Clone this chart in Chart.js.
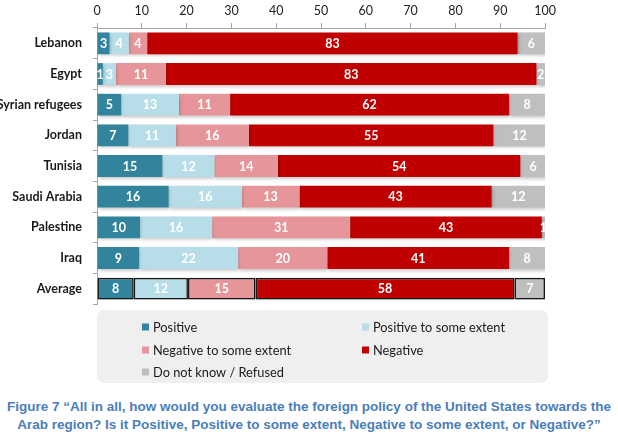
<!DOCTYPE html>
<html><head><meta charset="utf-8">
<script src="https://cdn.jsdelivr.net/npm/chart.js@4/dist/chart.umd.min.js"></script>
<style>
html,body{margin:0;padding:0;background:#fff;width:618px;height:435px;overflow:hidden}
#wrap{position:absolute;left:0;top:0;width:618px;height:390px}
#title{position:absolute;left:0;top:398px;width:618px;text-align:center;font:bold 13.5px "Liberation Sans",Arial,sans-serif;color:#4a7ebb;line-height:18px;white-space:nowrap}
</style></head><body>
<div id="wrap"><canvas id="c" width="618" height="390"></canvas></div>
<div id="title">Figure 7 “All in all, how would you evaluate the foreign policy of the United States towards the<br>Arab region? Is it Positive, Positive to some extent, Negative to some extent, or Negative?”</div>
<script>
const categories = ['Lebanon','Egypt','Syrian refugees','Jordan','Tunisia','Saudi Arabia','Palestine','Iraq','Average'];
const seriesNames = ['Positive','Positive to some extent','Negative to some extent','Negative','Do not know / Refused'];
const positive        = [2.8, 1.3, 5.4, 7.0, 14.6, 16.0, 9.6, 9.4, 8.2];
const positiveSome    = [4.3, 2.9, 12.9, 10.6, 11.6, 16.3, 16.1, 22.1, 12.1];
const negativeSome    = [4.1, 11.2, 11.4, 16.3, 14.2, 12.9, 30.8, 19.9, 15.1];
const negative        = [82.7, 82.7, 62.3, 54.6, 54.1, 42.9, 42.8, 40.6, 57.8];
const dontKnow        = [6.1, 1.9, 8.0, 11.6, 5.7, 11.9, 0.7, 8.0, 6.8];
const xTicks = [0,10,20,30,40,50,60,70,80,90,100];
const colors = ['#31849b','#b7dee8','#e6969a','#c00000','#bfbfbf'];

const allSeries = [positive, positiveSome, negativeSome, negative, dontKnow];
const datasets = allSeries.map((d,i)=>({
  label: seriesNames[i],
  data: d,
  backgroundColor: colors[i],
  borderColor: '#1a1a1a',
  borderWidth: ctx => (ctx.dataIndex === categories.length-1 ? 1.6 : 0),
  borderSkipped: false,
  barPercentage: 0.71,
  categoryPercentage: 1.0
}));

const plugin = {
  id:'custom',
  beforeDatasetsDraw(chart){
    const ctx=chart.ctx;
    ctx.save();
    ctx.shadowColor='rgba(0,0,0,0.22)';
    ctx.shadowBlur=3;
    ctx.shadowOffsetX=1;
    ctx.shadowOffsetY=2;
  },
  afterDatasetsDraw(chart){
    const ctx=chart.ctx;
    ctx.restore();
    ctx.save();
    ctx.font='bold 12.5px Lato, "Open Sans", sans-serif';
    ctx.fillStyle='#ffffff';
    ctx.textAlign='center'; ctx.textBaseline='middle';
    chart.data.datasets.forEach((ds,i)=>{
      const meta=chart.getDatasetMeta(i);
      meta.data.forEach((el,j)=>{
        const p=el.getProps(['x','y','base'],true);
        ctx.fillText(String(Math.round(ds.data[j])),(p.x+p.base)/2,p.y+0.5);
      });
    });
    ctx.restore();
  },
  afterDraw(chart){
    const ctx=chart.ctx;
    ctx.save();
    ctx.fillStyle='#efefef';
    ctx.beginPath();
    ctx.roundRect(97,310,451,73,7);
    ctx.fill();
    const pos=[[142,327],[362,327],[142,350],[362,350],[142,372]];
    ctx.font='12.8px Lato, "Open Sans", sans-serif';
    ctx.textBaseline='middle';
    ctx.textAlign='left';
    seriesNames.forEach((n,i)=>{
      const [x,y]=pos[i];
      ctx.fillStyle=colors[i];
      ctx.fillRect(x,y-3.5,7,7);
      ctx.fillStyle='#1a1a1a';
      ctx.fillText(n,x+11,y+0.5);
    });
    ctx.restore();
  }
};

new Chart(document.getElementById('c'),{
  type:'bar',
  data:{labels:categories,datasets},
  options:{
    indexAxis:'y',
    responsive:false,
    animation:false,
    devicePixelRatio:1,
    layout:{padding:{left:0,right:73,top:0,bottom:86}},
    plugins:{legend:{display:false},tooltip:{enabled:false}},
    scales:{
      x:{
        position:'top',
        stacked:true,
        min:0,max:100,
        afterBuildTicks(s){ s.ticks = xTicks.map(v=>({value:v})); },
        afterFit(s){ s.height = 28; },
        grid:{drawOnChartArea:false,drawTicks:true,tickLength:5,color:'#a6a6a6'},
        border:{color:'#a6a6a6'},
        ticks:{font:{family:'Lato, "Open Sans", sans-serif',size:12.5},color:'#222',padding:5,maxRotation:0}
      },
      y:{
        stacked:true,
        afterFit(s){ s.width = 97; },
        grid:{drawOnChartArea:false,drawTicks:true,tickLength:4,color:'#a6a6a6',offset:true},
        border:{color:'#a6a6a6'},
        ticks:{font:{family:'Lato, "Open Sans", sans-serif',size:12.5,weight:'bold'},color:'#1a1a1a',padding:11}
      }
    }
  },
  plugins:[plugin]
});
</script>
</body></html>
